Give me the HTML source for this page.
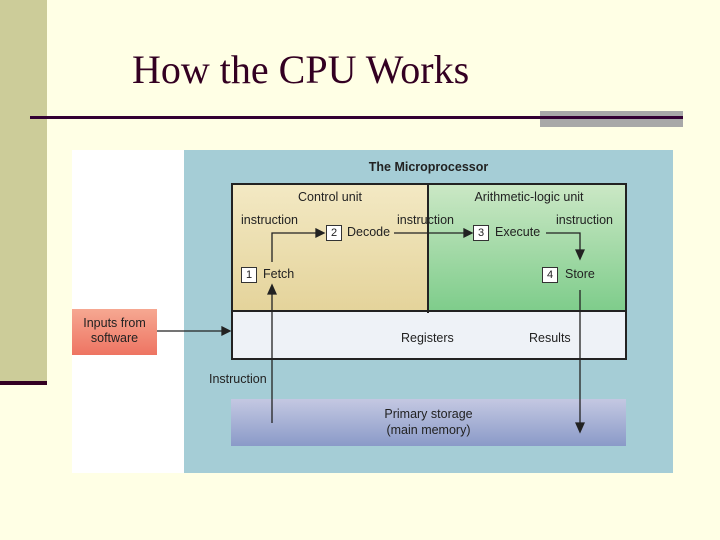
<!DOCTYPE html>
<html><head><style>
body{margin:0;width:720px;height:540px;background:#ffffe5;position:relative;overflow:hidden;font-family:"Liberation Sans",sans-serif}
div{position:absolute;box-sizing:border-box}
.t{font-size:12.5px;color:#222;white-space:nowrap}
.n{width:16px;height:16px;background:#fff;border:1px solid #333;font-size:11px;text-align:center;line-height:14px;color:#222}
</style></head><body>
<div style="left:0;top:0;width:47px;height:383px;background:#cccc99"></div>
<div style="left:0;top:381px;width:47px;height:4px;background:#330022"></div>
<div style="left:132px;top:46px;font-family:'Liberation Serif',serif;font-size:40px;color:#330022;white-space:nowrap">How the CPU Works</div>
<div style="left:540px;top:111px;width:143px;height:16px;background:#a8a8a8"></div>
<div style="left:30px;top:116px;width:653px;height:3px;background:#330033"></div>
<div style="left:72px;top:150px;width:112px;height:323px;background:#fff"></div>
<div style="left:184px;top:150px;width:489px;height:323px;background:#a5cdd6"></div>
<div class="t" style="left:184px;top:160px;width:489px;text-align:center;font-weight:bold;font-size:12.5px">The Microprocessor</div>
<div style="left:231px;top:183px;width:198px;height:130px;background:linear-gradient(#f3e9c4,#e4d39a)"></div>
<div style="left:429px;top:183px;width:198px;height:130px;background:linear-gradient(#cce8c6,#7dcc8a)"></div>
<div style="left:231px;top:312px;width:396px;height:48px;background:#eef2f7"></div>
<div style="left:231px;top:183px;width:396px;height:177px;border:2px solid #222"></div>
<div style="left:427px;top:183px;width:2px;height:130px;background:#222"></div>
<div style="left:231px;top:310px;width:396px;height:2px;background:#222"></div>
<div style="left:72px;top:309px;width:85px;height:46px;background:linear-gradient(#f6a892,#ee7462)"></div>
<div class="t" style="left:72px;top:316px;width:85px;text-align:center;line-height:15px">Inputs from<br>software</div>
<div style="left:231px;top:399px;width:395px;height:47px;background:linear-gradient(#c4c8e2,#8a9ac8)"></div>
<div class="t" style="left:231px;top:406px;width:395px;text-align:center;line-height:16px">Primary storage<br>(main memory)</div>
<div class="t" style="left:231px;top:190px;width:198px;text-align:center">Control unit</div>
<div class="t" style="left:429px;top:190px;width:226px;text-align:center;left:429px;width:226px;margin-left:-13px">Arithmetic-logic unit</div>
<div class="t" style="left:241px;top:213px">instruction</div>
<div class="t" style="left:397px;top:213px">instruction</div>
<div class="t" style="left:556px;top:213px">instruction</div>
<div class="n" style="left:241px;top:267px">1</div><div class="t" style="left:263px;top:267px">Fetch</div>
<div class="n" style="left:326px;top:225px">2</div><div class="t" style="left:347px;top:225px">Decode</div>
<div class="n" style="left:473px;top:225px">3</div><div class="t" style="left:495px;top:225px">Execute</div>
<div class="n" style="left:542px;top:267px">4</div><div class="t" style="left:565px;top:267px">Store</div>
<div class="t" style="left:401px;top:331px">Registers</div>
<div class="t" style="left:529px;top:331px">Results</div>
<div class="t" style="left:209px;top:372px">Instruction</div>
<svg width="720" height="540" style="position:absolute;left:0;top:0" fill="none" stroke="#222" stroke-width="1.3">
<path d="M157 331H224"/><path d="M222 327L230 331L222 335Z" fill="#222"/>
<path d="M272 423V292"/><path d="M268 294L272 285L276 294Z" fill="#222"/>
<path d="M272 262V233H318"/><path d="M316 229L324 233L316 237Z" fill="#222"/>
<path d="M394 233H466"/><path d="M464 229L472 233L464 237Z" fill="#222"/>
<path d="M546 233H580V252"/><path d="M576 250L580 259L584 250Z" fill="#222"/>
<path d="M580 290V425"/><path d="M576 423L580 432L584 423Z" fill="#222"/>
</svg>
</body></html>
